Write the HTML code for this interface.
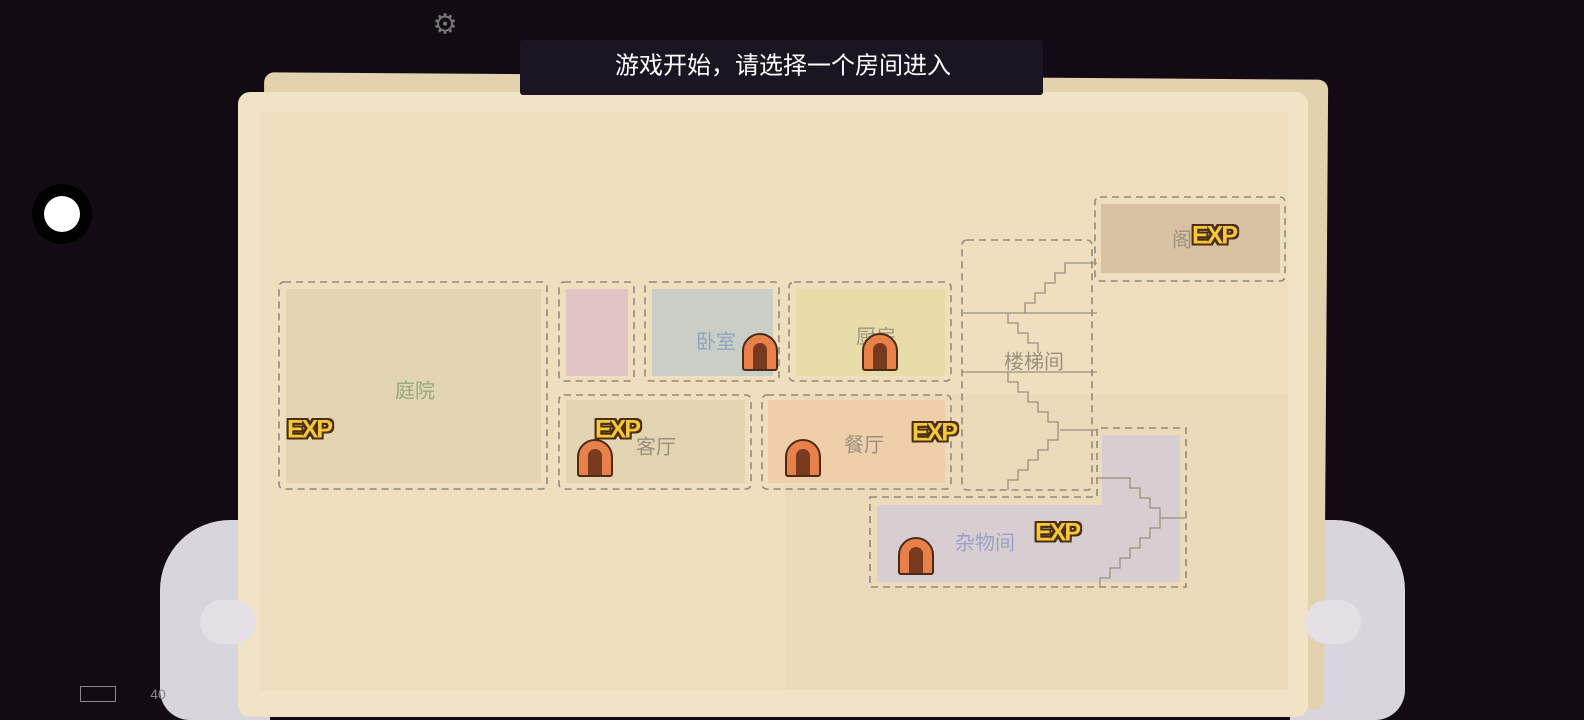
<!DOCTYPE html>
<html><head><meta charset="utf-8"><style>
*{margin:0;padding:0;box-sizing:border-box}
body{width:1584px;height:720px;background:#120b14;position:relative;overflow:hidden;font-family:"Liberation Sans","Noto Sans CJK SC",sans-serif}
.a{position:absolute}
.t{position:absolute;font-size:20px;transform:translate(-50%,-50%);white-space:nowrap}
.exp{position:absolute;font-weight:bold;font-size:25px;color:#f7c838;transform:translate(-50%,-50%);letter-spacing:-2px;text-shadow:-2px 0 #4a3010,2px 0 #4a3010,0 -2px #4a3010,0 2px #4a3010,-2px -2px #4a3010,2px 2px #4a3010,-2px 2px #4a3010,2px -2px #4a3010}
.door{position:absolute;width:36px;height:38px;background:#e8804a;border:2px solid #4a2a18;border-radius:18px 18px 3px 3px;transform:translate(-50%,-50%)}
.door:after{content:"";position:absolute;left:9px;top:8px;width:14px;height:26px;background:#7a3a20;border-radius:7px 7px 0 0}
</style></head><body>
<!-- hands behind -->
<div class="a" style="left:160px;top:520px;width:110px;height:200px;background:#d9d5dc;border-radius:70px 10px 0 30px"></div>
<div class="a" style="left:1290px;top:520px;width:115px;height:200px;background:#d9d5dc;border-radius:10px 70px 30px 0"></div>
<div class="a" style="left:262px;top:76px;width:1064px;height:630px;background:#e3d2ae;border-radius:10px;transform:rotate(0.4deg)"></div>
<div class="a" style="left:238px;top:92px;width:1070px;height:625px;background:#f1e3c5;border-radius:12px"></div>
<div class="a" style="left:260px;top:112px;width:1028px;height:578px;background:#efdfbf"></div>
<div class="a" style="left:785px;top:395px;width:503px;height:295px;background:#e9d9b8;opacity:.7"></div>
<!-- fingers in front -->
<div class="a" style="left:200px;top:600px;width:56px;height:44px;background:#e4e0e6;border-radius:22px"></div>
<div class="a" style="left:1305px;top:600px;width:56px;height:44px;background:#e4e0e6;border-radius:22px"></div>
<!-- banner -->
<div class="a" style="left:520px;top:40px;width:523px;height:55px;background:#1a1520;border-radius:3px"></div>
<div class="t" style="left:783px;top:63px;color:#fff;font-size:24px">游戏开始，请选择一个房间进入</div>
<div class="t" style="left:445px;top:24px;color:#777;font-size:28px">⚙</div>
<div class="a" style="left:32px;top:184px;width:60px;height:60px;border-radius:50%;background:#000"></div>
<div class="a" style="left:44px;top:196px;width:36px;height:36px;border-radius:50%;background:#fff"></div>
<div class="a" style="left:80px;top:686px;width:36px;height:16px;border:1px solid #888"></div>
<div class="t" style="left:158px;top:694px;color:#888;font-size:14px">40</div>
<!-- fills -->
<div class="a" style="left:286px;top:289px;width:255px;height:194px;background:#e3d5b1"></div>
<div class="a" style="left:566px;top:289px;width:62px;height:87px;background:#e2c4c4"></div>
<div class="a" style="left:652px;top:289px;width:121px;height:87px;background:#cbcec6"></div>
<div class="a" style="left:796px;top:289px;width:149px;height:87px;background:#e8dca8"></div>
<div class="a" style="left:566px;top:400px;width:179px;height:83px;background:#e3d5b1"></div>
<div class="a" style="left:768px;top:400px;width:177px;height:83px;background:#efcfa9"></div>
<div class="a" style="left:1101px;top:204px;width:179px;height:69px;background:#d9c2a3"></div>
<div class="a" style="left:877px;top:505px;width:303px;height:77px;background:#d8ced2"></div>
<div class="a" style="left:1102px;top:435px;width:78px;height:70px;background:#d8ced2"></div>
<svg class="a" style="left:0;top:0" width="1584" height="720" fill="none" stroke="#948a7a" stroke-width="1.6">
<g stroke-dasharray="7,5">
<rect x="279" y="282" width="268" height="207" rx="5"/>
<rect x="559" y="282" width="75" height="99" rx="5"/>
<rect x="645" y="282" width="134" height="99" rx="5"/>
<rect x="789" y="282" width="162" height="99" rx="5"/>
<rect x="559" y="395" width="192" height="94" rx="5"/>
<rect x="762" y="395" width="189" height="94" rx="5"/>
<rect x="962" y="240" width="130" height="250" rx="5"/>
<rect x="1095" y="197" width="190" height="84" rx="5"/>
<path d="M870 497H1097V428H1186V587H870Z"/>
</g>
<g stroke="#9a9080" stroke-width="1.3">
<path d="M962 313H1097M962 372H1097M1060 430H1097"/>
<path d="M1097 263H1065V273H1055V283H1045V293H1035V303H1025V313"/>
<path d="M1008 313V323H1018V333H1028V343H1038V353"/>
<path d="M1008 372V382H1018V392H1028V402H1038V412H1048V422H1058V430"/>
<path d="M1058 430V440H1048V450H1038V460H1028V470H1018V480H1008V490"/>
<path d="M1097 478H1130V488H1140V498H1150V508H1160V518H1186"/>
<path d="M1160 518V528H1150V538H1140V548H1130V558H1120V568H1110V578H1100V587"/>
</g>
</svg>
<div class="t" style="left:415px;top:389px;color:#92aa80">庭院</div>
<div class="t" style="left:716px;top:340px;color:#8ea6bf">卧室</div>
<div class="t" style="left:876px;top:335px;color:#a09480">厨房</div>
<div class="t" style="left:656px;top:445px;color:#9a9080">客厅</div>
<div class="t" style="left:864px;top:443px;color:#9a9080">餐厅</div>
<div class="t" style="left:1034px;top:360px;color:#9a9080">楼梯间</div>
<div class="t" style="left:1182px;top:238px;color:#a09080">阁</div>
<div class="t" style="left:985px;top:541px;color:#9aa0c8">杂物间</div>
<div class="door" style="left:760px;top:352px"></div>
<div class="door" style="left:880px;top:352px"></div>
<div class="door" style="left:595px;top:458px"></div>
<div class="door" style="left:803px;top:458px"></div>
<div class="door" style="left:916px;top:556px"></div>
<div class="exp" style="left:309px;top:430px">EXP</div>
<div class="exp" style="left:617px;top:430px">EXP</div>
<div class="exp" style="left:934px;top:433px">EXP</div>
<div class="exp" style="left:1057px;top:533px">EXP</div>
<div class="exp" style="left:1214px;top:236px">EXP</div>
</body></html>
